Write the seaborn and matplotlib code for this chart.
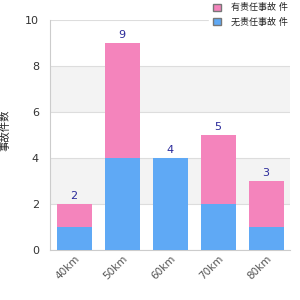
import matplotlib
matplotlib.use("Agg")
import matplotlib.pyplot as plt
import seaborn as sns
import pandas as pd
import numpy as np

categories = ["40km", "50km", "60km", "70km", "80km"]
series_blue = [1, 4, 4, 2, 1]
series_pink = [1, 5, 0, 3, 2]
legend_pink = "有责任事故 件"
legend_blue = "无责任事故 件"
ylabel = "事故件数"

totals = [b + p for b, p in zip(series_blue, series_pink)]

sns.set_theme(style="white")
plt.rcParams['font.family'] = ['DejaVu Sans', 'Noto Sans CJK SC']

fig = plt.figure(figsize=(3, 3), dpi=100)
ax = fig.add_axes([0.167, 0.167, 0.80, 0.767])

# alternating bands
for lo, hi in [(2, 4), (6, 8)]:
    ax.axhspan(lo, hi, color="#f3f3f3", zorder=0, lw=0)
for y in range(0, 11, 2):
    ax.axhline(y, color="#dddddd", lw=0.8, zorder=0.5)

df_total = pd.DataFrame({"cat": categories, "val": totals})
df_blue = pd.DataFrame({"cat": categories, "val": series_blue})

sns.barplot(data=df_total, x="cat", y="val", color="#f484bc", saturation=1,
            width=0.73, ax=ax, zorder=2, label=legend_pink, linewidth=0)
sns.barplot(data=df_blue, x="cat", y="val", color="#5fa9f5", saturation=1,
            width=0.73, ax=ax, zorder=3, label=legend_blue, linewidth=0)
if ax.get_legend() is not None:
    ax.get_legend().remove()

for i, t in enumerate(totals):
    ax.text(i, t + 0.12, str(t), ha="center", va="bottom", fontsize=8,
            color="#2a2a9a", zorder=5)

ax.set_ylim(0, 10)
ax.set_xlim(-0.5, 4.5)
ax.set_yticks(range(0, 11, 2))
ax.set_xlabel("")
ax.set_ylabel(ylabel, fontsize=7.5, color="#222222")
ax.yaxis.set_label_coords(-0.163, 0.52)
ax.tick_params(axis="y", labelsize=8, colors="#333333", length=0, pad=8)
ax.tick_params(axis="x", labelsize=7.5, colors="#555555", length=0, pad=3)
plt.setp(ax.get_xticklabels(), rotation=45, ha="right", rotation_mode="anchor")

for s in ["top", "right"]:
    ax.spines[s].set_visible(False)
for s in ["left", "bottom"]:
    ax.spines[s].set_color("#cccccc")
    ax.spines[s].set_linewidth(0.8)

h, l = ax.get_legend_handles_labels()
leg = fig.legend(h, l, loc="upper right", bbox_to_anchor=(0.975, 1.005),
                 fontsize=6.5, frameon=True, framealpha=1, edgecolor="white",
                 handlelength=0.9, handleheight=0.9, borderaxespad=0.2,
                 labelspacing=0.55, handletextpad=1.1, borderpad=0.35)
for p in leg.get_patches():
    p.set_edgecolor("#777777")
    p.set_linewidth(1)
for t in leg.get_texts():
    t.set_color("#222222")

fig.savefig("out.png", dpi=100)
